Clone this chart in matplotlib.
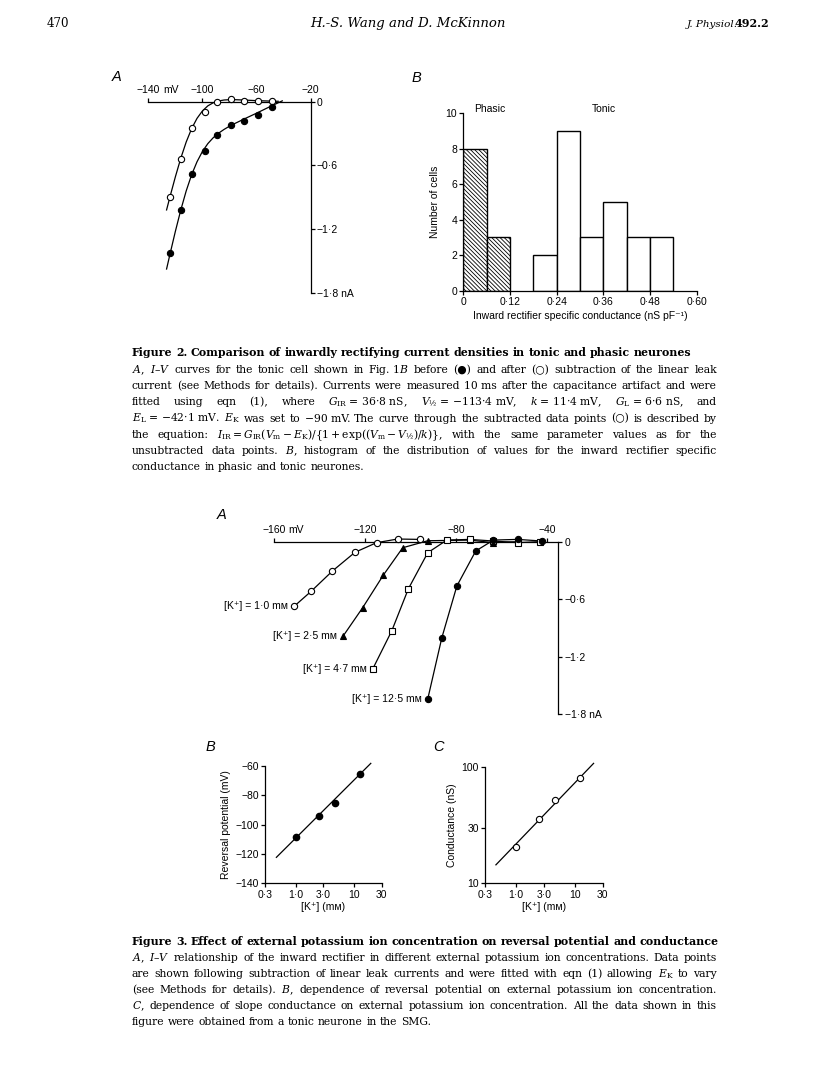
import matplotlib
matplotlib.use('Agg')
import matplotlib.pyplot as plt
from matplotlib.ticker import NullLocator

# ---------------- data ----------------
# Fig 2A : I-V before (filled) and after (open) leak subtraction
f2a_v = [-123.8, -116.0, -107.5, -98.3, -89.5, -79.0, -69.3, -59.3, -48.8]
f2a_filled = [-1.429, -1.025, -0.677, -0.469, -0.314, -0.224, -0.180, -0.121, -0.050]
f2a_open = [-0.894, -0.543, -0.245, -0.093, 0.0, 0.022, 0.006, 0.003, 0.009]
# fitted curves
fit_open_v = [-126.5, -124, -120, -116, -112, -108, -104, -100, -96, -92, -88, -84, -80, -76, -70, -60, -50, -44]
fit_open_i = [-1.02, -0.897, -0.708, -0.533, -0.380, -0.254, -0.157, -0.087, -0.039, -0.010,
              0.007, 0.016, 0.019, 0.019, 0.016, 0.010, 0.006, 0.004]
fit_filled_v = [-126.5, -124, -120, -116, -112, -108, -104, -100, -96, -92, -88, -84, -80, -76, -70, -60, -50, -41]
fit_filled_i = [-1.577, -1.438, -1.222, -1.021, -0.841, -0.689, -0.566, -0.469, -0.395, -0.339,
                -0.296, -0.261, -0.231, -0.205, -0.168, -0.108, -0.046, 0.008]
f2a_xticks = [-140, -100, -60, -20]
f2a_xlabels = ['\u2212140', '\u2212100', '\u221260', '\u221220']
iv_yticks = [0, -0.6, -1.2, -1.8]
iv_ylabels = ['0', '\u22120\u00b76', '\u22121\u00b72', '\u22121\u00b78 nA']

# Fig 2B : histogram
phasic_left = [0.0, 0.06]
phasic_counts = [8, 3]
tonic_left = [0.18, 0.24, 0.30, 0.36, 0.42, 0.48]
tonic_counts = [2, 9, 3, 5, 3, 3]
hist_xticks = [0, 0.12, 0.24, 0.36, 0.48, 0.60]
hist_xlabels = ['0', '0\u00b712', '0\u00b724', '0\u00b736', '0\u00b748', '0\u00b760']
hist_yticks = [0, 2, 4, 6, 8, 10]

# Fig 3A : I-V in different [K+]
k10_v = [-151.0, -143.7, -134.3, -124.4, -114.9, -105.6, -95.8]
k10_i = [-0.672, -0.519, -0.306, -0.111, -0.010, 0.028, 0.024]
k25_v = [-129.5, -121.0, -111.9, -103.4, -92.4, -74.0, -63.8, -52.9]
k25_i = [-0.982, -0.689, -0.348, -0.063, 0.010, 0.017, -0.010, 0.0]
k47_v = [-116.6, -108.2, -100.9, -92.4, -84.0, -74.0, -63.5, -52.9, -43.2]
k47_i = [-1.330, -0.930, -0.491, -0.115, 0.017, 0.024, 0.007, -0.010, 0.0]
k125_v = [-92.4, -86.2, -79.6, -71.3, -63.5, -52.9, -42.2]
k125_i = [-1.643, -1.003, -0.463, -0.097, 0.017, 0.024, 0.007]
k_labels = ['[K\u207a] = 1\u00b70 m\u1d0d', '[K\u207a] = 2\u00b75 m\u1d0d',
            '[K\u207a] = 4\u00b77 m\u1d0d', '[K\u207a] = 12\u00b75 m\u1d0d']
f3a_xticks = [-160, -120, -80, -40]
f3a_xlabels = ['\u2212160', '\u2212120', '\u221280', '\u221240']

# Fig 3B / 3C
k_conc = [1.0, 2.5, 4.7, 12.5]
erev = [-108.6, -94.3, -85.0, -65.5]
erev_fit_k = [0.47, 19.5]
erev_fit_e = [-122.3, -58.2]
gcond = [20.5, 35.4, 51.4, 80.5]
g_fit_k = [0.46, 21.0]
g_fit_g = [14.4, 106.8]
log_xticks = [0.3, 1, 3, 10, 30]
log_xlabels = ['0\u00b73', '1\u00b70', '3\u00b70', '10', '30']
erev_yticks = [-140, -120, -100, -80, -60]
erev_ylabels = ['\u2212140', '\u2212120', '\u2212100', '\u221280', '\u221260']
g_yticks = [10, 30, 100]
g_ylabels = ['10', '30', '100']

# ---------------- figure ----------------
W, H = 816, 1071
plt.rcParams['font.family'] = ['Liberation Sans', 'DejaVu Sans']
plt.rcParams['mathtext.fontset'] = 'dejavuserif'
plt.rcParams['axes.linewidth'] = 0.9
plt.rcParams['hatch.linewidth'] = 0.6
TS = 7.5

fig = plt.figure(figsize=(W / 100, H / 100), dpi=100)
fig.patch.set_facecolor('white')


def ax_px(L, T, R, B):
    return fig.add_axes([L / W, 1 - B / H, (R - L) / W, (B - T) / H])


def style_ticks(ax):
    ax.tick_params(which='both', direction='out', length=3, width=0.9,
                   labelsize=TS, pad=1.5, colors='k')


def iv_axes(box, xlim, xticks, xlabels):
    ax = ax_px(*box)
    ax.set_xlim(*xlim)
    ax.set_ylim(-1.8, 0)
    ax.patch.set_visible(False)
    ax.spines['left'].set_visible(False)
    ax.spines['bottom'].set_visible(False)
    ax.xaxis.set_ticks_position('top')
    ax.yaxis.set_ticks_position('right')
    ax.set_xticks(xticks)
    ax.set_xticklabels(xlabels)
    ax.set_yticks(iv_yticks)
    ax.set_yticklabels(iv_ylabels)
    style_ticks(ax)
    ax.annotate('mV', xy=(xlim[0], 0), xycoords='data', xytext=(10.5, 4.5),
                textcoords='offset points', ha='left', va='bottom', fontsize=TS)
    return ax


# ---- Fig 2A ----
ax = iv_axes((148.3, 101.7, 310.7, 292.7), (-140, -20), f2a_xticks, f2a_xlabels)
ax.plot(fit_open_v, fit_open_i, '-', color='k', lw=0.9, clip_on=False)
ax.plot(fit_filled_v, fit_filled_i, '-', color='k', lw=0.9, clip_on=False)
ax.plot(f2a_v, f2a_open, 'o', mfc='white', mec='k', ms=4.5, mew=0.8, clip_on=False, zorder=3)
ax.plot(f2a_v, f2a_filled, 'o', mfc='k', mec='k', ms=4.5, mew=0.8, clip_on=False, zorder=3)

# ---- Fig 2B ----
ax = ax_px(463.3, 113.3, 696.7, 290.7)
ax.bar(phasic_left, phasic_counts, width=0.06, align='edge', facecolor='white',
       edgecolor='k', hatch='\\' * 8, lw=1.0)
ax.bar(tonic_left, tonic_counts, width=0.06, align='edge', facecolor='white',
       edgecolor='k', lw=1.0)
ax.set_xlim(0, 0.6)
ax.set_ylim(0, 10)
ax.spines['top'].set_visible(False)
ax.spines['right'].set_visible(False)
ax.set_xticks(hist_xticks)
ax.set_xticklabels(hist_xlabels)
ax.set_yticks(hist_yticks)
style_ticks(ax)
ax.set_ylabel('Number of cells', fontsize=TS, labelpad=4)
ax.set_xlabel('Inward rectifier specific conductance (nS pF\u207b\u00b9)', fontsize=TS, labelpad=3)
ax.text(0.069, 10.25, 'Phasic', fontsize=TS, ha='center', va='center')
ax.text(0.362, 10.25, 'Tonic', fontsize=TS, ha='center', va='center')

# ---- Fig 3A ----
ax = iv_axes((274.0, 541.7, 558.3, 714.0), (-160, -35), f3a_xticks, f3a_xlabels)
series = [(k10_v, k10_i, 'o', 'white'), (k25_v, k25_i, '^', 'k'),
          (k47_v, k47_i, 's', 'white'), (k125_v, k125_i, 'o', 'k')]
for (vv, ii, mk, fc), lab in zip(series, k_labels):
    ax.plot(vv, ii, '-', color='k', lw=0.9, clip_on=False)
    ax.plot(vv, ii, mk, mfc=fc, mec='k', ms=4.5, mew=0.8, clip_on=False, zorder=3)
    ax.annotate(lab, xy=(vv[0], ii[0]), xytext=(-4.5, 0), textcoords='offset points',
                ha='right', va='center', fontsize=TS)

# ---- Fig 3B ----
ax = ax_px(265.0, 766.0, 381.7, 883.3)
ax.set_xscale('log')
ax.set_xlim(0.3, 30)
ax.set_ylim(-140, -60)
ax.plot(erev_fit_k, erev_fit_e, '-', color='k', lw=0.9, clip_on=False)
ax.plot(k_conc, erev, 'o', mfc='k', mec='k', ms=4.5, clip_on=False, zorder=3)
ax.spines['top'].set_visible(False)
ax.spines['right'].set_visible(False)
ax.set_xticks(log_xticks)
ax.set_xticklabels(log_xlabels)
ax.xaxis.set_minor_locator(NullLocator())
ax.set_yticks(erev_yticks)
ax.set_yticklabels(erev_ylabels)
style_ticks(ax)
ax.set_ylabel('Reversal potential (mV)', fontsize=TS, labelpad=3)
ax.set_xlabel('[K\u207a] (m\u1d0d)', fontsize=TS, labelpad=2)

# ---- Fig 3C ----
ax = ax_px(485.0, 766.7, 602.7, 883.3)
ax.set_xscale('log')
ax.set_yscale('log')
ax.set_xlim(0.3, 30)
ax.set_ylim(10, 100)
ax.plot(g_fit_k, g_fit_g, '-', color='k', lw=0.9, clip_on=False)
ax.plot(k_conc, gcond, 'o', mfc='white', mec='k', ms=4.5, mew=0.8, clip_on=False, zorder=3)
ax.spines['top'].set_visible(False)
ax.spines['right'].set_visible(False)
ax.set_xticks(log_xticks)
ax.set_xticklabels(log_xlabels)
ax.xaxis.set_minor_locator(NullLocator())
ax.set_yticks(g_yticks)
ax.set_yticklabels(g_ylabels)
ax.yaxis.set_minor_locator(NullLocator())
style_ticks(ax)
ax.set_ylabel('Conductance (nS)', fontsize=TS, labelpad=3)
ax.set_xlabel('[K\u207a] (m\u1d0d)', fontsize=TS, labelpad=2)

# ---- panel letters ----
for (px, py, s) in [(116.7, 76.7, 'A'), (416.7, 78.0, 'B'), (221.7, 515.0, 'A'),
                    (210.0, 746.7, 'B'), (438.0, 746.7, 'C')]:
    fig.text(px / W, 1 - py / H, s, fontsize=10.5, style='italic', ha='center', va='center')

# ---- header ----
SERIF = ['DejaVu Serif', 'DejaVu Sans']
HB = 27.0
fig.text(47 / W, 1 - HB / H, '470', fontsize=8.5, family=SERIF, ha='left', va='baseline')
fig.text(408 / W, 1 - HB / H, 'H.-S. Wang and D. McKinnon', fontsize=9.5, family=SERIF,
         style='italic', ha='center', va='baseline')
fig.text(769 / W, 1 - HB / H, '492.2', fontsize=8.0, family=SERIF, weight='bold',
         ha='right', va='baseline')
fig.text(738 / W, 1 - HB / H, 'J. Physiol.', fontsize=7.5, family=SERIF, style='italic',
         ha='right', va='baseline')

# ---- captions ----
renderer = fig.canvas.get_renderer()
X0, X1 = 132.0, 717.0

cap2_title = 'Figure 2. Comparison of inwardly rectifying current densities in tonic and phasic neurones'
cap2 = [
    '$A$, $I$\u2013$V$ curves for the tonic cell shown in Fig.~1$B$ before (\u25cf) and after (\u25cb) subtraction of the linear leak',
    'current (see Methods for details). Currents were measured 10~ms after the capacitance artifact and were',
    'fitted using eqn (1), where $G_{\\rm IR}$~=~36\u00b78~nS, $V_{\u00bd}$~=~\u2212113\u00b74~mV, $k$~=~11\u00b74~mV, $G_{\\rm L}$~=~6\u00b76~nS, and',
    '$E_{\\rm L}$~=~\u221242\u00b71~mV. $E_{\\rm K}$ was set to \u221290~mV. The curve through the subtracted data points (\u25cb) is described by',
    'the equation: $I_{\\rm IR}=G_{\\rm IR}(V_{\\rm m}-E_{\\rm K})/\\{1+{\\rm exp}((V_{\\rm m}-V_{\u00bd})/k)\\}$, with the same parameter values as for the',
    'unsubtracted data points. $B$, histogram of the distribution of values for the inward rectifier specific',
    'conductance in phasic and tonic neurones.',
]
cap3_title = 'Figure 3. Effect of external potassium ion concentration on reversal potential and conductance'
cap3 = [
    '$A$, $I$\u2013$V$ relationship of the inward rectifier in different external potassium ion concentrations. Data points',
    'are shown following subtraction of linear leak currents and were fitted with eqn (1) allowing $E_{\\rm K}$ to vary',
    '(see Methods for details). $B$, dependence of reversal potential on external potassium ion concentration.',
    '$C$, dependence of slope conductance on external potassium ion concentration. All the data shown in this',
    'figure were obtained from a tonic neurone in the SMG.',
]


def tokens_of(line):
    # split on spaces outside math; '~' is a non-breaking space
    toks, cur, inmath = [], '', False
    for ch in line:
        if ch == '$':
            inmath = not inmath
        if ch == ' ' and not inmath:
            toks.append(cur)
            cur = ''
        else:
            cur += ch
    toks.append(cur)
    return [t.replace('~', ' ') for t in toks]


def make_texts(toks, size, weight='normal'):
    out = []
    for t in toks:
        tx = fig.text(0, 0, t, fontsize=size, family=SERIF, weight=weight,
                      ha='left', va='baseline')
        out.append((tx, tx.get_window_extent(renderer).width))
    return out


def natural_width(line, size, weight='normal'):
    items = make_texts(tokens_of(line), size, weight)
    w = sum(x[1] for x in items) + (len(items) - 1) * 0.318 * size * 100 / 72
    for tx, _ in items:
        tx.remove()
    return w


# choose sizes so the lines fit the text block
just_lines = cap2[:-1] + cap3[:-1]
body = min(10 * (X1 - X0) / natural_width(l, 10) for l in just_lines) * 0.995
title_size = 10 * (X1 - X0 - 2) / natural_width(cap3_title, 10, 'bold')


def place_line(line, ybase, size, justify, weight='normal'):
    items = make_texts(tokens_of(line), size, weight)
    total = sum(x[1] for x in items)
    if justify and len(items) > 1:
        gap = (X1 - X0 - total) / (len(items) - 1)
    else:
        gap = 0.318 * size * 100 / 72
    x = X0
    for tx, w in items:
        tx.set_position((x / W, 1 - ybase / H))
        x += w + gap


place_line(cap2_title, 356.0, title_size, False, 'bold')
for i, l in enumerate(cap2):
    place_line(l, 373.0 + 16.2 * i, body, i < len(cap2) - 1)
place_line(cap3_title, 945.0, title_size, False, 'bold')
for i, l in enumerate(cap3):
    place_line(l, 961.0 + 16.0 * i, body, i < len(cap3) - 1)

fig.savefig('out.png', dpi=100, facecolor='white')
